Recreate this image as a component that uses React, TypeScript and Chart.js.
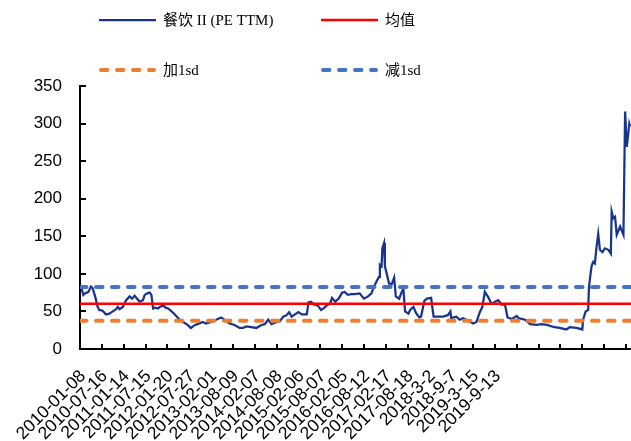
import { useEffect, useRef } from "react";
import { Chart, registerables } from "chart.js";

Chart.register(...registerables);

// Half-year date labels on the category ticks (26 weekly points apart)
const dateLabels = [
  "2010-01-08", "2010-07-16", "2011-01-14", "2011-07-15", "2012-01-20",
  "2012-07-27", "2013-02-01", "2013-08-09", "2014-02-07", "2014-08-08",
  "2015-02-06", "2015-08-07", "2016-02-05", "2016-08-12", "2017-02-17",
  "2017-08-18", "2018-3-2", "2018-9-7", "2019-3-15", "2019-9-13",
];
const weeksPerTick = 26;
const tickSlots = 26;
const lastWeek = 656;

// Week number (from 2010-01-08) of each sampled PE reading
const weekIdx = [
  0, 2, 4, 6, 10, 13, 15, 18, 21, 23, 27, 31, 35, 39, 43, 45, 47, 51, 53, 55,
  59, 62, 65, 68, 71, 75, 77, 80, 83, 85, 87, 90, 93, 95, 99, 102, 105, 109, 113, 117,
  121, 127, 132, 137, 140, 146, 150, 156, 162, 168, 172, 178, 184, 190, 194, 198, 204, 210, 216, 220,
  224, 228, 234, 238, 242, 246, 249, 252, 256, 260, 264, 270, 272, 275, 279, 283, 287, 290, 294, 298,
  300, 304, 308, 312, 315, 319, 323, 327, 333, 338, 343, 347, 350, 354, 356, 357, 359, 360, 362, 363,
  365, 368, 371, 374, 376, 380, 383, 385, 387, 391, 393, 397, 400, 404, 406, 410, 413, 418, 421, 432,
  438, 441, 442, 448, 452, 456, 460, 468, 472, 476, 479, 482, 486, 490, 494, 498, 502, 506, 509, 514,
  520, 522, 530, 536, 544, 549, 556, 562, 565, 571, 579, 583, 591, 598, 599, 602, 605, 606, 609, 611,
  613, 615, 617, 619, 622, 625, 629, 632, 633, 635, 637, 639, 643, 647, 649, 651, 654, 655,
];

// 餐饮 II PE (TTM)
const peTTM = [
  83, 80, 72, 74, 76, 83, 81, 70, 56, 52, 51, 46, 47, 50, 53, 56, 53, 56, 61, 65,
  70, 67, 71, 67, 63, 65, 72, 74, 75, 72, 54, 55, 54, 56, 58, 55, 54, 50, 46, 41,
  37, 33, 28, 32, 33, 36, 34, 36, 39, 42, 39, 34, 32, 28, 28, 30, 29, 28, 32, 33,
  39, 33, 36, 37, 43, 45, 49, 43, 46, 49, 46, 46, 62, 63, 59, 58, 52, 54, 58, 61,
  68, 63, 67, 75, 76, 72, 73, 73, 74, 67, 70, 74, 83, 92, 96, 112, 110, 134, 141, 110,
  101, 87, 86, 95, 70, 67, 76, 80, 50, 47, 52, 56, 48, 42, 43, 64, 67, 68, 43, 43,
  45, 50, 41, 43, 39, 41, 39, 34, 36, 49, 56, 76, 69, 60, 63, 65, 59, 59, 42, 40,
  44, 41, 39, 33, 32, 33, 32, 30, 29, 28, 26, 29, 28, 26, 39, 50, 52, 83, 110, 116,
  114, 136, 153, 132, 129, 134, 132, 127, 183, 174, 176, 152, 163, 152, 316, 269, 300, 296,
];

const meanPE = 60.1;
const plusSdPE = 37.7;
const minusSdPE = 82.5;

const yMin = 0;
const yMax = 350;
const yStep = 50;

const flatLine = (v: number) => [
  { x: 0, y: v },
  { x: lastWeek, y: v },
];

// 2 x 2 legend drawn above the plot
const legendSpots = [
  { x: 99, y: 20 },
  { x: 321, y: 20 },
  { x: 99, y: 70 },
  { x: 321, y: 70 },
];

const gridLegend = {
  id: "gridLegend",
  afterDraw(chart: any) {
    const ctx = chart.ctx as CanvasRenderingContext2D;
    chart.data.datasets.forEach((ds: any, i: number) => {
      const p = legendSpots[i];
      if (!p) return;
      ctx.save();
      ctx.strokeStyle = ds.borderColor;
      ctx.lineWidth = ds.borderWidth;
      ctx.lineCap = ds.borderCapStyle || "butt";
      ctx.setLineDash(ds.borderDash || []);
      const cap = ds.borderCapStyle === "round" ? ds.borderWidth / 2 : 0;
      ctx.beginPath();
      ctx.moveTo(p.x + cap, p.y);
      ctx.lineTo(p.x + 57 - cap, p.y);
      ctx.stroke();
      ctx.setLineDash([]);
      ctx.fillStyle = "#000";
      ctx.font = '15px "Liberation Serif", "Noto Sans CJK SC", serif';
      ctx.textBaseline = "middle";
      ctx.textAlign = "left";
      ctx.fillText(ds.label, p.x + 64, p.y + 1);
      ctx.restore();
    });
  },
};

// Tick marks pointing into the plot area
const inwardTicks = {
  id: "inwardTicks",
  afterDraw(chart: any) {
    const { ctx, chartArea, scales } = chart;
    ctx.save();
    ctx.strokeStyle = "#000";
    ctx.lineWidth = 2;
    ctx.beginPath();
    scales.x.ticks.forEach((t: any) => {
      const px = Math.round(scales.x.getPixelForValue(t.value));
      ctx.moveTo(px, chartArea.bottom);
      ctx.lineTo(px, chartArea.bottom - 5);
    });
    scales.y.ticks.forEach((t: any) => {
      const py = Math.round(scales.y.getPixelForValue(t.value));
      ctx.moveTo(chartArea.left, py);
      ctx.lineTo(chartArea.left + 6, py);
    });
    ctx.stroke();
    ctx.restore();
  },
};

export default function App() {
  const canvasRef = useRef<HTMLCanvasElement | null>(null);

  useEffect(() => {
    const canvas = canvasRef.current;
    if (!canvas) return;
    const chart = new Chart(canvas, {
      type: "line",
      data: {
        datasets: [
          {
            label: "餐饮 II (PE TTM)",
            data: weekIdx.map((w, i) => ({ x: w, y: peTTM[i] })),
            borderColor: "#17358f",
            borderWidth: 2.25,
            pointRadius: 0,
            tension: 0,
            order: 10,
          },
          {
            label: "均值",
            data: flatLine(meanPE),
            borderColor: "#ff0000",
            borderWidth: 2.5,
            pointRadius: 0,
            order: 0,
          },
          {
            label: "加1sd",
            data: flatLine(plusSdPE),
            borderColor: "#ed7d31",
            borderWidth: 4,
            borderDash: [6.5, 9.5],
            borderCapStyle: "round",
            pointRadius: 0,
            order: 2,
          },
          {
            label: "减1sd",
            data: flatLine(minusSdPE),
            borderColor: "#4472c4",
            borderWidth: 4,
            borderDash: [6.5, 9.5],
            borderCapStyle: "round",
            pointRadius: 0,
            order: 1,
          },
        ] as any,
      },
      plugins: [gridLegend, inwardTicks],
      options: {
        animation: false,
        responsive: false,
        devicePixelRatio: 1,
        layout: { padding: { top: 86, left: 0, right: 0, bottom: 0 } },
        plugins: {
          legend: { display: false },
          tooltip: { enabled: false },
        },
        scales: {
          x: {
            type: "linear",
            min: 0,
            max: lastWeek,
            afterBuildTicks: (scale: any) => {
              scale.ticks = Array.from({ length: tickSlots }, (_, i) => ({
                value: i * weeksPerTick,
              }));
            },
            afterFit: (scale: any) => {
              scale.height = 92;
              scale.paddingLeft = 0;
              scale.paddingRight = 0;
            },
            grid: { display: true, drawOnChartArea: false, drawTicks: false },
            border: { display: true, color: "#000", width: 2 },
            ticks: {
              autoSkip: false,
              minRotation: 45,
              maxRotation: 45,
              padding: 17,
              labelOffset: 3,
              color: "#000",
              font: { family: '"Liberation Sans", Arial, sans-serif', size: 17.5 },
              callback: (v: any) => dateLabels[Math.round(Number(v) / weeksPerTick)] ?? "",
            },
          },
          y: {
            min: yMin,
            max: yMax,
            afterFit: (scale: any) => {
              scale.width = 80;
              scale.paddingTop = 0;
              scale.paddingBottom = 0;
            },
            grid: { display: true, drawOnChartArea: false, drawTicks: false },
            border: { display: true, color: "#000", width: 2 },
            ticks: {
              stepSize: yStep,
              padding: 18,
              color: "#000",
              font: { family: '"Liberation Sans", Arial, sans-serif', size: 17 },
            },
          },
        },
      } as any,
    });
    return () => chart.destroy();
  }, []);

  return (
    <div style={{ position: "fixed", left: 0, top: 0, width: 631, height: 441, background: "#fff" }}>
      <canvas ref={canvasRef} width={631} height={441} style={{ display: "block" }} />
    </div>
  );
}
